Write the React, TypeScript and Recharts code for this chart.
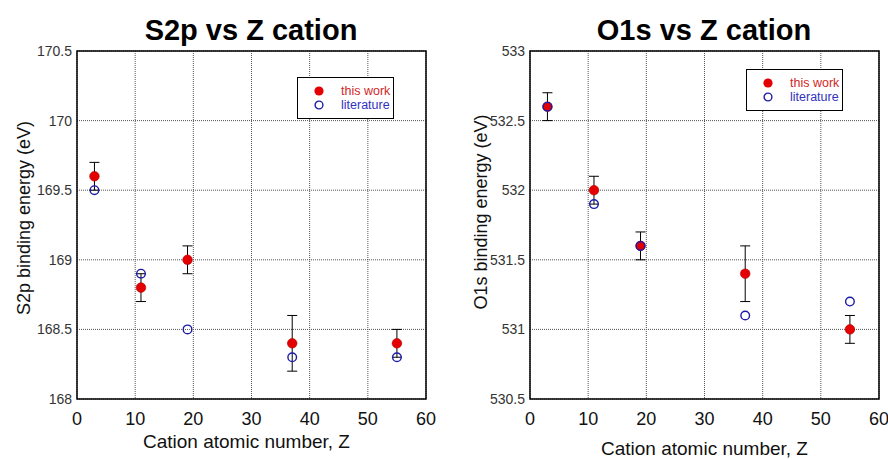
import React from "react";
import {
  ScatterChart,
  Scatter,
  XAxis,
  YAxis,
  CartesianGrid,
  ErrorBar,
  ReferenceArea,
} from "recharts";

const Z = [3, 11, 19, 37, 55];

const S2P_THIS = [169.6, 168.8, 169.0, 168.4, 168.4];
const S2P_ERR = [0.1, 0.1, 0.1, 0.2, 0.1];
const S2P_LIT = [169.5, 168.9, 168.5, 168.3, 168.3];

const O1S_THIS = [532.6, 532.0, 531.6, 531.4, 531.0];
const O1S_ERR = [0.1, 0.1, 0.1, 0.2, 0.1];
const O1S_LIT = [532.6, 531.9, 531.6, 531.1, 531.2];

const Z_TICKS = [0, 10, 20, 30, 40, 50, 60];
const S2P_TICKS = [168, 168.5, 169, 169.5, 170, 170.5];
const O1S_TICKS = [530.5, 531, 531.5, 532, 532.5, 533];

const FONT = "'Liberation Sans', Arial, sans-serif";
const RED = "#e40000";
const BLUE = "#1c1ca8";

const PANEL_W = 444;
const PANEL_H = 459;
const Y_AXIS_W = 60;

const FilledDot = (p: any) => (
  <circle cx={p.cx} cy={p.cy} r={4.8} fill={RED} stroke="#b00000" strokeWidth={0.6} />
);

const OpenDot = (p: any) => (
  <circle cx={p.cx} cy={p.cy} r={4.3} fill="none" stroke={BLUE} strokeWidth={1.4} />
);

type PanelProps = {
  left: number;
  title: string;
  titleX: number;
  yLabel: string;
  yLabelOffset: number;
  yLabelDy: number;
  xLabelOffset: number;
  xLabelDx: number;
  plotLeft: number;
  plotRight: number;
  domain: [number, number];
  ticks: number[];
  measured: number[];
  errors: number[];
  literature: number[];
  legendLeft: number;
  legendTop: number;
};

function Panel(props: PanelProps) {
  const thisWork = Z.map((z, i) => ({ z, e: props.measured[i], err: props.errors[i] }));
  const lit = Z.map((z, i) => ({ z, e: props.literature[i] }));
  const top = 51;
  const bottom = 399;
  const xAxisH = 30;
  const margin = {
    top,
    right: PANEL_W - props.plotRight,
    bottom: PANEL_H - bottom - xAxisH,
    left: props.plotLeft - Y_AXIS_W,
  };

  return (
    <div style={{ position: "absolute", left: props.left, top: 0, width: PANEL_W, height: PANEL_H }}>
      <div
        style={{
          position: "absolute",
          left: props.titleX - 150,
          width: 300,
          top: 14,
          textAlign: "center",
          fontFamily: FONT,
          fontWeight: "bold",
          fontSize: 29,
          lineHeight: "32px",
          color: "#000",
        }}
      >
        {props.title}
      </div>
      <ScatterChart width={PANEL_W} height={PANEL_H} margin={margin}>
        <CartesianGrid stroke="#555" strokeDasharray="1 1" />
        <XAxis
          type="number"
          dataKey="z"
          domain={[0, 60]}
          ticks={Z_TICKS}
          allowDataOverflow
          height={xAxisH}
          axisLine={false}
          tickLine={false}
          tickSize={0}
          tickMargin={13}
          tick={{ fontSize: 18, fill: "#111", fontFamily: FONT }}
          label={{
            value: "Cation atomic number, Z",
            position: "bottom",
            offset: props.xLabelOffset,
            dx: props.xLabelDx,
            style: { fontSize: 19, fill: "#111", fontFamily: FONT },
          }}
        />
        <YAxis
          type="number"
          dataKey="e"
          domain={props.domain}
          ticks={props.ticks}
          allowDataOverflow
          width={Y_AXIS_W}
          axisLine={false}
          tickLine={false}
          tickSize={0}
          tickMargin={5}
          tick={{ fontSize: 14, fill: "#333", fontFamily: FONT }}
          label={{
            value: props.yLabel,
            angle: -90,
            position: "insideLeft",
            offset: props.yLabelOffset,
            dy: props.yLabelDy,
            style: { textAnchor: "middle", fontSize: 18, fill: "#111", fontFamily: FONT },
          }}
        />
        <ReferenceArea
          x1={0}
          x2={60}
          y1={props.domain[0]}
          y2={props.domain[1]}
          fill="none"
          stroke="#000"
          strokeWidth={1.5}
        />
        <Scatter data={thisWork} shape={FilledDot} isAnimationActive={false}>
          <ErrorBar dataKey="err" direction="y" width={5} stroke="#000" strokeWidth={1} />
        </Scatter>
        <Scatter data={lit} shape={OpenDot} isAnimationActive={false} />
      </ScatterChart>
      <div
        style={{
          position: "absolute",
          left: props.legendLeft,
          top: props.legendTop,
          width: 97,
          height: 42,
          boxSizing: "border-box",
          border: "1.5px solid #000",
          background: "#fff",
          fontFamily: FONT,
          fontSize: 12.5,
        }}
      >
        {[
          { label: "this work", color: "#d02828", filled: true },
          { label: "literature", color: "#3232c0", filled: false },
        ].map((item, i) => (
          <div
            key={item.label}
            style={{
              position: "absolute",
              left: 15,
              top: 6 + i * 13.5,
              height: 14,
              display: "flex",
              alignItems: "center",
              whiteSpace: "nowrap",
            }}
          >
            <svg width={12} height={12} style={{ marginRight: 16 }}>
              {item.filled ? (
                <circle cx={6} cy={6} r={4.6} fill={RED} />
              ) : (
                <circle cx={6} cy={6} r={3.9} fill="none" stroke={BLUE} strokeWidth={1.4} />
              )}
            </svg>
            <span style={{ color: item.color }}>{item.label}</span>
          </div>
        ))}
      </div>
    </div>
  );
}

export default function App() {
  return (
    <div style={{ position: "absolute", left: 0, top: 0, width: 888, height: 459, background: "#fff" }}>
      <Panel
        left={0}
        title="S2p vs Z cation"
        titleX={251}
        yLabel="S2p binding energy (eV)"
        yLabelOffset={6.5}
        yLabelDy={-7}
        xLabelOffset={6}
        xLabelDx={-5}
        plotLeft={77}
        plotRight={426}
        domain={[168, 170.5]}
        ticks={S2P_TICKS}
        measured={S2P_THIS}
        errors={S2P_ERR}
        literature={S2P_LIT}
        legendLeft={297}
        legendTop={77}
      />
      <Panel
        left={444}
        title="O1s vs Z cation"
        titleX={260}
        yLabel="O1s binding energy (eV)"
        yLabelOffset={10.5}
        yLabelDy={-13}
        xLabelOffset={13}
        xLabelDx={0}
        plotLeft={86}
        plotRight={435}
        domain={[530.5, 533]}
        ticks={O1S_TICKS}
        measured={O1S_THIS}
        errors={O1S_ERR}
        literature={O1S_LIT}
        legendLeft={302}
        legendTop={69}
      />
    </div>
  );
}
